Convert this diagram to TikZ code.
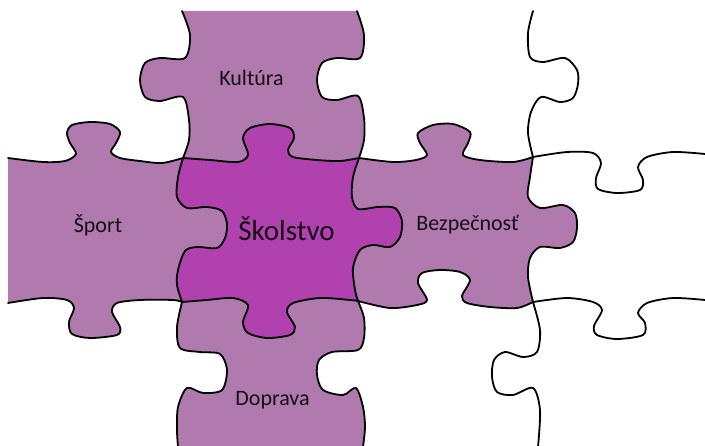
\documentclass[tikz,border=0pt]{standalone}
\usepackage{fontspec}
\setmainfont{Carlito}
\definecolor{lite}{HTML}{B07AAE}
\definecolor{deep}{HTML}{B041AE}
\definecolor{ink}{HTML}{141014}
% edges (pixel coordinates, y downwards)
\def\VIa{(182,11) (190,35) (185,58) (160,58) (145,63) (140,80) (145,97) (160,101) (183,97) (189,120) (189,140) (183,158)}
\def\VIb{(183,158) (178,177) (177,197) (187,208) (207,207) (222,211) (227,224) (225,238) (217,248) (197,247) (185,251) (178,270) (177,285) (182,302)}
\def\VIbR{(182,302) (177,285) (178,270) (185,251) (197,247) (217,248) (225,238) (227,224) (222,211) (207,207) (187,208) (177,197) (178,177) (183,158)}
\def\VIc{(182,302) (177,327) (180,348) (200,352) (220,354) (227,370) (222,390) (203,393) (187,388) (178,407) (177,430) (178,447)}
\def\VIcR{(178,447) (177,430) (178,407) (187,388) (203,393) (222,390) (227,370) (220,354) (200,352) (180,348) (177,327) (182,302)}
\def\VIIa{(357,11) (364,35) (360,58) (337,58) (322,63) (317,80) (322,97) (337,100) (358,96) (364,118) (364,140) (359,158)}
\def\VIIaR{(359,158) (364,140) (364,118) (358,96) (337,100) (322,97) (317,80) (322,63) (337,58) (360,58) (364,35) (357,11)}
\def\VIIb{(359,158) (353,177) (352,197) (358,209) (378,207) (395,208) (402,221) (400,237) (390,247) (373,245) (360,250) (353,268) (355,290) (358,301)}
\def\VIIbR{(358,301) (355,290) (353,268) (360,250) (373,245) (390,247) (400,237) (402,221) (395,208) (378,207) (358,209) (352,197) (353,177) (359,158)}
\def\VIIc{(358,301) (364,318) (364,338) (358,350) (332,352) (319,360) (317,375) (323,390) (343,395) (356,388) (363,407) (365,427) (363,447)}
\def\VIIIa{(533,11) (528,33) (530,57) (543,62) (565,58) (577,70) (578,84) (573,98) (560,102) (541,97) (531,112) (528,133) (533,157)}
\def\VIIIb{(533,157) (530,177) (528,197) (540,208) (563,205) (575,213) (577,228) (573,242) (560,248) (540,247) (530,258) (528,277) (533,302)}
\def\VIIIc{(533,302) (540,330) (537,352) (523,357) (505,352) (494,360) (492,377) (497,392) (513,395) (533,388) (540,410) (538,447)}
\def\HIa{(8,158) (43,162) (65,161) (76,154) (70,143) (67,133) (72,125) (90,122) (110,124) (120,132) (116,143) (111,152) (120,158) (140,161) (162,163) (183,158)}
\def\HIb{(183,158) (210,160) (238,162) (248,155) (243,138) (250,128) (270,124) (290,128) (294,138) (288,150) (293,157) (317,160) (340,161) (359,158)}
\def\HIc{(359,158) (393,162) (416,160) (427,155) (420,143) (418,133) (433,125) (453,124) (470,132) (468,143) (463,155) (480,160) (513,162) (533,157)}
\def\HId{(533,157) (567,152) (593,153) (601,163) (596,178) (598,189) (617,193) (640,190) (643,180) (638,167) (647,157) (673,152) (705,154)}
\def\HIIa{(8,303) (43,298) (67,300) (74,308) (69,322) (72,334) (90,338) (117,335) (120,327) (112,312) (117,303) (140,300) (173,300) (182,302)}
\def\HIIaR{(182,302) (173,300) (140,300) (117,303) (112,312) (120,327) (117,335) (90,338) (72,334) (69,322) (74,308) (67,300) (43,298) (8,303)}
\def\HIIb{(182,302) (207,300) (233,298) (248,305) (243,322) (248,333) (267,338) (290,335) (295,327) (287,312) (293,303) (320,298) (350,300) (358,301)}
\def\HIIbR{(358,301) (350,300) (320,298) (293,303) (287,312) (295,327) (290,335) (267,338) (248,333) (243,322) (248,305) (233,298) (207,300) (182,302)}
\def\HIIc{(358,301) (390,308) (417,305) (427,300) (418,283) (422,273) (440,270) (460,272) (470,280) (462,296) (467,303) (490,307) (517,308) (533,302)}
\def\HIIcR{(533,302) (517,308) (490,307) (467,303) (462,296) (470,280) (460,272) (440,270) (422,273) (418,283) (427,300) (417,305) (390,308) (358,301)}
\def\HIId{(533,302) (567,298) (593,302) (602,310) (594,326) (597,335) (617,339) (643,335) (645,323) (638,313) (647,303) (673,298) (705,300)}
\begin{document}
\begin{tikzpicture}[x=1pt,y=-1pt,
  edge/.style={draw=black,line width=1.8pt,line join=round,line cap=round},
  label/.style={text=ink,anchor=base,inner sep=0pt,font=\fontsize{22}{26}\selectfont},
  biglabel/.style={label,font=\fontsize{29}{34}\selectfont}]
\useasboundingbox (0,0) rectangle (705,446);
% pieces
\fill[lite] plot[smooth] coordinates {\VIa} -- plot[smooth] coordinates {\HIb} -- plot[smooth] coordinates {\VIIaR} -- cycle;
\fill[lite] plot[smooth] coordinates {\HIa} -- plot[smooth] coordinates {\VIb} -- plot[smooth] coordinates {\HIIaR} -- cycle;
\fill[deep] plot[smooth] coordinates {\HIb} -- plot[smooth] coordinates {\VIIb} -- plot[smooth] coordinates {\HIIbR} -- plot[smooth] coordinates {\VIbR} -- cycle;
\fill[lite] plot[smooth] coordinates {\HIc} -- plot[smooth] coordinates {\VIIIb} -- plot[smooth] coordinates {\HIIcR} -- plot[smooth] coordinates {\VIIbR} -- cycle;
\fill[lite] plot[smooth] coordinates {\HIIb} -- plot[smooth] coordinates {\VIIc} -- plot[smooth] coordinates {\VIcR} -- cycle;
% cut lines
\foreach \e in {\VIa,\VIb,\VIc,\VIIa,\VIIb,\VIIc,\VIIIa,\VIIIb,\VIIIc,\HIa,\HIb,\HIc,\HId,\HIIa,\HIIb,\HIIc,\HIId}
  \draw[edge] plot[smooth] coordinates {\e};
% labels
\node[label] (kultura) at (251.5,86) {Kultúra};
\node[label] (sport) at (98,233) {Šport};
\node[biglabel] (skolstvo) at (286.5,241) {Školstvo};
\node[label] (bezpecnost) at (467.5,231) {Bezpečnosť};
\node[label] (doprava) at (272.5,406) {Doprava};
\end{tikzpicture}
\end{document}
